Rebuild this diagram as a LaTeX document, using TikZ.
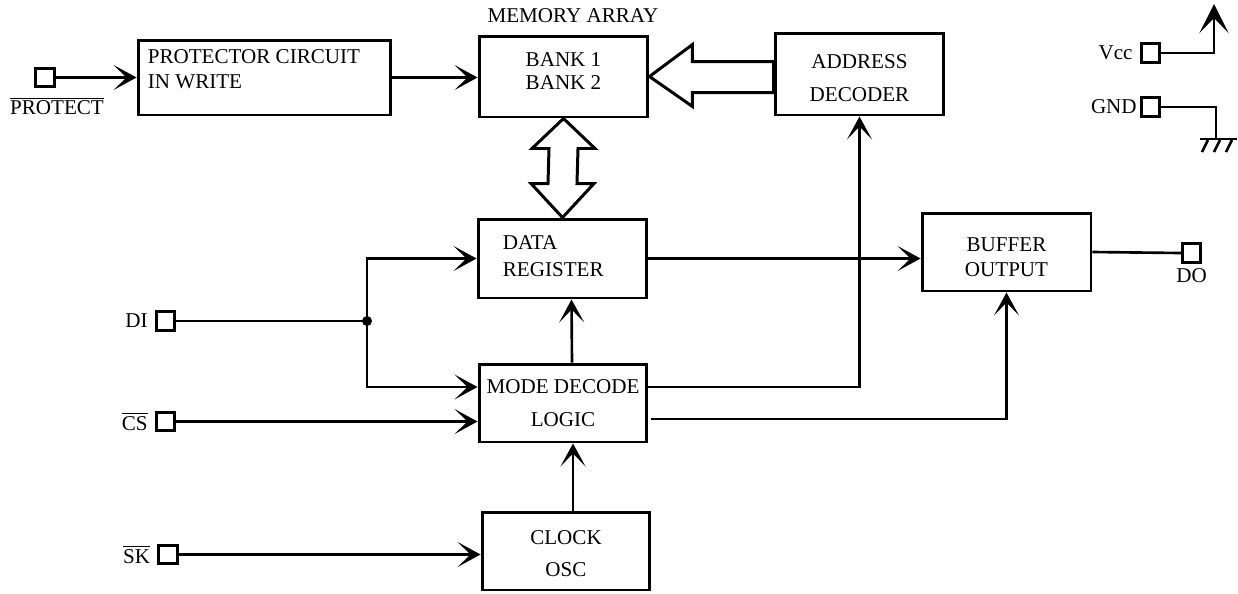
\documentclass[tikz,border=0pt]{standalone}
\usepackage{fontspec}
\setmainfont{Liberation Serif}
\usetikzlibrary{calc, arrows.meta}

\begin{document}
\begin{tikzpicture}[x=0.02cm, y=-0.02cm, line width=1.5pt,
		font=\fontsize{12}{14.4}\selectfont,
		blk/.style={draw, line width=1.7pt, inner sep=0pt},
		txt/.style={align=center, inner sep=0pt},
		pin/.style={draw, line width=1.7pt, minimum size=0.37cm, inner sep=0pt},
		sig/.style={-{Stealth[length=0.46cm, width=0.5cm, inset=0.26cm]}},
		wide/.style={draw, line width=1.7pt, fill=white, line join=miter}]
		\useasboundingbox (0,0) rectangle (1238,593);

		% blocks
		\node(prot) [blk, minimum width=5.06cm, minimum height=1.5cm] at (264.5,77.5) {};
		\node(bank) [blk, minimum width=3.38cm, minimum height=1.62cm] at (563.5,76.5) {};
		\node(addr) [blk, minimum width=3.38cm, minimum height=1.64cm] at (859.5,74) {};
		\node(dreg) [blk, minimum width=3.38cm, minimum height=1.58cm] at (562.5,258.5) {};
		\node(mode) [blk, minimum width=3.36cm, minimum height=1.56cm] at (563,403) {};
		\node(clk) [blk, minimum width=3.36cm, minimum height=1.56cm] at (566,551) {};
		\node(buf) [blk, minimum width=3.38cm, minimum height=1.56cm] at (1006.5,252) {};

		\node(protT) [txt, align=left, anchor=west] at ($(prot.west)+(10,-8)$) {PROTECTOR CIRCUIT\\[0pt]IN WRITE};
		\node(bankT) [txt] at ($(bank)+(0,-5)$) {BANK 1\\[-1.3pt]BANK 2};
		\node(addrT) [txt] at ($(addr)+(0,4.5)$) {ADDRESS\\[4.3pt]DECODER};
		\node(dregT) [txt, align=left, anchor=west] at ($(dreg.west)+(25,-2)$) {DATA\\[1pt]REGISTER};
		\node(modeT) [txt] at (mode) {MODE DECODE\\[4.3pt]LOGIC};
		\node(clkT) [txt] at ($(clk)+(0,3)$) {CLOCK\\[3.7pt]OSC};
		\node(bufT) [txt] at ($(buf)+(0,5.5)$) {BUFFER\\[0pt]OUTPUT};
		\node(mem) at (573,16) {MEMORY ARRAY};

		% pins
		\node(pprot) [pin] at (45,77.5) {};
		\node(pdi) [pin] at (165.5,321) {};
		\node(pcs) [pin] at (165.5,421.5) {};
		\node(psk) [pin] at (168,554.5) {};
		\node(pdo) [pin] at (1191.5,253) {};
		\node(pvcc) [pin] at (1150.5,53) {};
		\node(pgnd) [pin] at (1150.5,107) {};

		\node(lprot) at (57,106) {$\overline{\hbox{PROTECT}}$};
		\node(ldi) [left] at (pdi.west) {DI};
		\node(lcs) [left] at (pcs.west) {$\overline{\hbox{CS}}$};
		\node(lsk) [left] at (psk.west) {$\overline{\hbox{SK}}$};
		\node(ldo) [below, inner sep=2pt] at (pdo.south) {DO};
		\node(lvcc) [left] at (pvcc.west) {Vcc};
		\node(lgnd) [left, inner sep=1pt] at (pgnd.west) {GND};

		% wide buses
		\draw[wide] (bank.east) -- ++(43,-32) -- ++(0,17) -| (addr.west) |- ($(bank.east)+(43,16)$) -- ++(0,14) -- cycle;
		\draw[wide] (bank.south) -- ++(31.5,30) -- ++(-17,0) -- ($(dreg.north)+(14.5,-34)$) -- ++(17,0) -- (dreg.north) -- ++(-31.5,-34) -- ++(17,0) -- ($(bank.south)+(-14.5,30)$) -- ++(-17,0) -- cycle;

		% signals
		\draw[sig] (pprot.east) -- (pprot.east -| prot.west);
		\draw[sig] (prot.east) -- (prot.east -| bank.west);
		\coordinate(dot) at (367,321);
		\draw (pdi.east) -- (dot);
		\fill (dot) circle (5);
		\draw[sig] (dot) |- (dreg.west);
		\draw[sig] (dot) |- ($(mode.west)+(0,-16)$);
		\draw[sig] (pcs.east) -- (pcs.east -| mode.west);
		\draw[sig] (psk.east) -- (psk.east -| clk.west);
		\draw[sig] ($(clk.north)+(7,0)$) -- ($(mode.south)+(10,0)$);
		\draw[sig] ($(mode.north)+(9,0)$) -- ($(dreg.south)+(9,0)$);
		\draw[sig] (dreg.east) -- (dreg.east -| buf.west);
		\draw[sig] ($(mode.east)+(0,-16)$) -| (addr.south);
		\draw[sig] ($(mode.east)+(3,16)$) -| (buf.south);
		\draw (buf.east) -- (pdo.west);

		% supply
		\coordinate(vtop) at (1214,4);
		\draw[-{Stealth[length=0.58cm, width=0.58cm, inset=0.3cm]}] (pvcc.east) -| (vtop);
		\coordinate(gnd) at (1216,139);
		\draw (pgnd.east) -| (gnd);
		\draw (1200,139) -- (1237,139);
		\foreach \x in {1208,1220,1232}
			\draw (\x,140) -- (\x-6,152);
\end{tikzpicture}
\end{document}
